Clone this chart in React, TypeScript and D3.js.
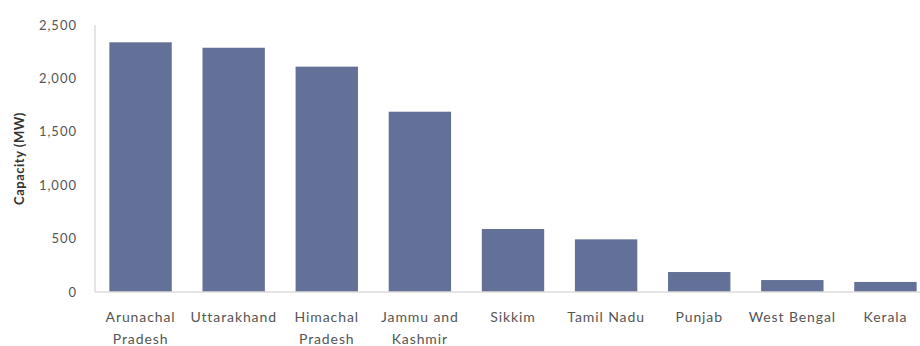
import React, { useEffect, useRef } from "react";
import * as d3 from "d3";

const states = [
  "Arunachal Pradesh",
  "Uttarakhand",
  "Himachal Pradesh",
  "Jammu and Kashmir",
  "Sikkim",
  "Tamil Nadu",
  "Punjab",
  "West Bengal",
  "Kerala",
];
const capacity = [2338, 2287, 2110, 1688, 590, 493, 187, 112, 94];
const yTicks = [0, 500, 1000, 1500, 2000, 2500];

const WIDTH = 920;
const HEIGHT = 346;

export default function App() {
  const svgRef = useRef<SVGSVGElement | null>(null);

  useEffect(() => {
    const svg = d3.select(svgRef.current);
    svg.selectAll("*").remove();

    const x = d3.scaleBand().domain(states).range([94, 932]).paddingInner(0.33).paddingOuter(0.165);
    const y = d3.scaleLinear().domain([0, 2500]).range([292, 25]);

    const font = "Lato, 'Open Sans', sans-serif";
    const textColor = "#555";

    // y axis line
    svg.append("line")
      .attr("x1", 95).attr("x2", 95)
      .attr("y1", y(2500)).attr("y2", y(0))
      .attr("stroke", "#dcdcdc").attr("stroke-width", 1.5);

    // y ticks
    svg.append("g")
      .selectAll("text")
      .data(yTicks)
      .join("text")
      .attr("x", 77)
      .attr("y", (d) => y(d))
      .attr("dy", "0.35em")
      .attr("text-anchor", "end")
      .attr("font-family", font)
      .attr("font-size", 13)
      .attr("letter-spacing", 1)
      .attr("fill", textColor)
      .text((d) => d3.format(",")(d));

    // bars
    svg.append("g")
      .selectAll("rect")
      .data(capacity)
      .join("rect")
      .attr("x", (_, i) => x(states[i])!)
      .attr("width", x.bandwidth())
      .attr("y", (d) => y(d))
      .attr("height", (d) => y(0) - y(d))
      .attr("fill", "#637198");

    svg.append("line")
      .attr("x1", 95).attr("x2", WIDTH)
      .attr("y1", y(0)).attr("y2", y(0))
      .attr("stroke", "#dcdcdc").attr("stroke-width", 1.5);

    // x labels (two-word names wrap)
    const labels = svg.append("g");
    states.forEach((s) => {
      const words = s.split(" ");
      let lines: string[];
      if (s === "Jammu and Kashmir") lines = ["Jammu and", "Kashmir"];
      else if (s.endsWith("Pradesh")) lines = [words[0], "Pradesh"];
      else lines = [s];
      const cx = x(s)! + x.bandwidth() / 2;
      const t = labels.append("text")
        .attr("y", 322)
        .attr("text-anchor", "middle")
        .attr("font-family", font)
        .attr("font-size", 14)
        .attr("letter-spacing", 0.9)
        .attr("fill", textColor);
      lines.forEach((l, i) => {
        t.append("tspan")
          .attr("x", cx)
          .attr("dy", i === 0 ? 0 : 22)
          .text(l);
      });
    });

    // y axis title
    svg.append("text")
      .attr("transform", `translate(24,${y(1250)}) rotate(-90)`)
      .attr("text-anchor", "middle")
      .attr("font-family", font)
      .attr("font-size", 13)
      .attr("font-weight", 700)
      .attr("letter-spacing", 0.5)
      .attr("fill", "#333")
      .text("Capacity (MW)");
  }, []);

  return (
    <svg
      ref={svgRef}
      width={WIDTH}
      height={HEIGHT}
      style={{ position: "absolute", left: 0, top: 0, background: "white" }}
    />
  );
}
